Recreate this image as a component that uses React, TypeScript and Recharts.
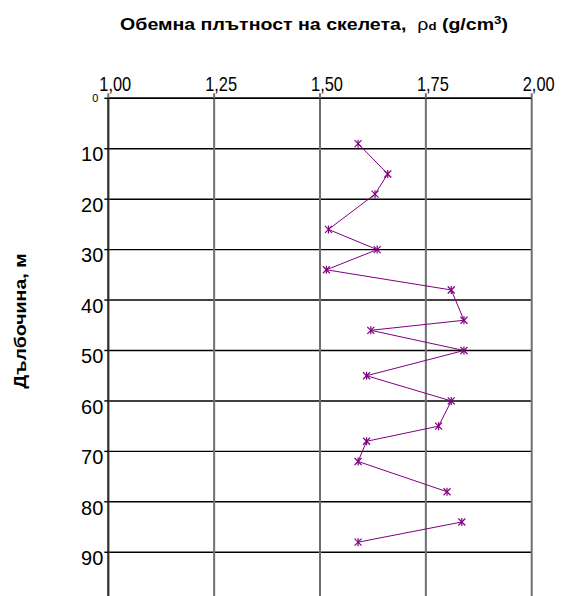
import { ScatterChart, Scatter, XAxis, YAxis, CartesianGrid } from "recharts";

// Dry density of the soil skeleton vs. depth
const depthsUpper = [9, 15, 19, 26, 30, 34, 38, 44, 46, 50, 55, 60, 65, 68, 72, 78];
const densityUpper = [1.59, 1.66, 1.63, 1.52, 1.635, 1.515, 1.81, 1.84, 1.62, 1.84, 1.61, 1.81, 1.78, 1.61, 1.59, 1.8];
const depthsLower = [84, 88];
const densityLower = [1.835, 1.59];

const densityTicks = [1, 1.25, 1.5, 1.75, 2];
const depthTicks = [0, 10, 20, 30, 40, 50, 60, 70, 80, 90];

const upper = depthsUpper.map((depth, i) => ({ depth, density: densityUpper[i] }));
const lower = depthsLower.map((depth, i) => ({ depth, density: densityLower[i] }));

const FONT = "'Liberation Sans', Arial, sans-serif";
const PURPLE = "#800080";

function StarMarker(props: any) {
  const { cx, cy } = props;
  if (cx == null || cy == null) return null;
  const r = 3.5;
  return (
    <g stroke={PURPLE} strokeWidth={1.2}>
      <line x1={cx - r} y1={cy - r} x2={cx + r} y2={cy + r} />
      <line x1={cx - r} y1={cy + r} x2={cx + r} y2={cy - r} />
      <line x1={cx} y1={cy - r - 0.5} x2={cx} y2={cy + r + 0.5} />
    </g>
  );
}

function DensityTick(props: any) {
  const { x, y, payload } = props;
  const label = Number(payload.value).toFixed(2).replace(".", ",");
  const cx = x + 7;
  return (
    <text
      x={0}
      y={0}
      transform={`translate(${cx},${y}) scale(0.82,1)`}
      textAnchor="middle"
      fontSize={20}
      fontFamily={FONT}
      fill="#000"
    >
      {label}
    </text>
  );
}

function DepthTick(props: any) {
  const { x, y, payload } = props;
  const small = payload.value === 0;
  return (
    <text
      x={small ? x - 5 : x}
      y={small ? y + 4 : y + 12.7}
      textAnchor="end"
      fontSize={small ? 11 : 20}
      fontFamily={FONT}
      fill="#000"
    >
      {payload.value}
    </text>
  );
}

export default function App() {
  return (
    <div
      style={{
        position: "fixed",
        left: 0,
        top: 0,
        width: 566,
        height: 596,
        overflow: "hidden",
        background: "#fff",
      }}
    >
      <svg
        width={566}
        height={596}
        style={{ position: "absolute", left: 0, top: 0, pointerEvents: "none", zIndex: 1 }}
      >
        <text
          transform="translate(314,30) scale(1.2,1)"
          textAnchor="middle"
          fontSize={16.3}
          fontWeight="bold"
          fontFamily={FONT}
        >
          Обемна плътност на скелета,{"\u00a0\u00a0"}
          <tspan fontWeight="normal">ρ</tspan>
          <tspan fontSize={11} fontWeight="bold">d</tspan>
          {" (g/cm"}
          <tspan fontSize={11} dy={-6}>3</tspan>
          <tspan dy={6}>)</tspan>
        </text>
        <text
          transform="translate(26,321) rotate(-90) scale(1.2,1)"
          textAnchor="middle"
          fontSize={16.3}
          fontWeight="bold"
          fontFamily={FONT}
        >
          Дълбочина, м
        </text>
      </svg>
      <ScatterChart
        width={566}
        height={610}
        margin={{ top: 68.3, left: 68.3, right: 34.3, bottom: 7.3 }}
      >
        <CartesianGrid vertical={false} stroke="#000" strokeWidth={1.4} />
        <CartesianGrid horizontal={false} stroke="#6f6f6f" strokeWidth={2} />
        <XAxis
          type="number"
          dataKey="density"
          orientation="top"
          height={30}
          domain={[1, 2]}
          ticks={densityTicks}
          allowDataOverflow
          tick={<DensityTick />}
          tickSize={5}
          tickMargin={2}
          axisLine={{ stroke: "#000", strokeWidth: 1.4 }}
          tickLine={{ stroke: "#6f6f6f", strokeWidth: 2 }}
        />
        <YAxis
          type="number"
          dataKey="depth"
          reversed
          width={40}
          domain={[0, 100]}
          ticks={depthTicks}
          allowDataOverflow
          tick={<DepthTick />}
          tickSize={4}
          tickMargin={1}
          axisLine={{ stroke: "#333", strokeWidth: 2 }}
          tickLine={{ stroke: "#000", strokeWidth: 1.4 }}
        />
        <Scatter
          data={upper}
          line={{ stroke: PURPLE, strokeWidth: 1 }}
          lineType="joint"
          shape={<StarMarker />}
          isAnimationActive={false}
        />
        <Scatter
          data={lower}
          line={{ stroke: PURPLE, strokeWidth: 1 }}
          lineType="joint"
          shape={<StarMarker />}
          isAnimationActive={false}
        />
      </ScatterChart>
    </div>
  );
}
